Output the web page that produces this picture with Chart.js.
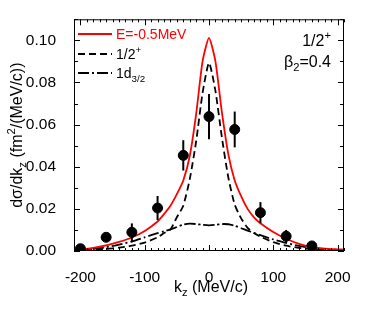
<!DOCTYPE html>
<html>
<head>
<meta charset="utf-8">
<script src="https://cdn.jsdelivr.net/npm/chart.js@4.4.1/dist/chart.umd.min.js"></script>
<style>
html, body { margin: 0; padding: 0; background: #fff; }
</style>
</head>
<body>
<canvas id="myChart" width="374" height="320"></canvas>
<script>
'use strict';

// curves
let curveX = [-210, -200, -180, -160, -140, -120, -100, -80, -70, -60, -50, -40, -30, -20, -10, 0,
  10, 20, 30, 40, 50, 60, 70, 80, 100, 120, 140, 160, 180, 200, 210];
let totalY = [0.0006, 0.0007, 0.0015, 0.0027, 0.0043, 0.0064, 0.0095, 0.0140, 0.0175, 0.0215, 0.0270, 0.0335, 0.0450, 0.0650, 0.0900, 0.1012,
  0.0900, 0.0660, 0.0460, 0.0335, 0.0260, 0.0200, 0.0160, 0.0132, 0.0090, 0.0058, 0.0034, 0.0019, 0.0011, 0.0008, 0.0007];
let halfPlusY = [0.0002, 0.0003, 0.0006, 0.0010, 0.0016, 0.0025, 0.0040, 0.0065, 0.0085, 0.0102, 0.0160, 0.0215, 0.0340, 0.0520, 0.0750, 0.0893,
  0.0760, 0.0540, 0.0350, 0.0220, 0.0155, 0.0110, 0.0085, 0.0068, 0.0042, 0.0025, 0.0015, 0.0009, 0.0005, 0.0003, 0.0002];
let d32Y = [0.0004, 0.0005, 0.0010, 0.0018, 0.0030, 0.0045, 0.0065, 0.0085, 0.0094, 0.0103, 0.0114, 0.0125, 0.0130, 0.0128, 0.0124, 0.0122,
  0.0124, 0.0128, 0.0127, 0.0120, 0.0108, 0.0097, 0.0086, 0.0075, 0.0055, 0.0038, 0.0024, 0.0014, 0.0008, 0.0004, 0.0003];

// measured points with errors
let expX = [-200, -160, -120, -80, -40, 0, 40, 80, 120, 160];
let expY = [0.0011, 0.0065, 0.0089, 0.0204, 0.0454, 0.0638, 0.0577, 0.0182, 0.0070, 0.0024];
let expErr = [0.0008, 0.0018, 0.0042, 0.0057, 0.0072, 0.0107, 0.0085, 0.0050, 0.0030, 0.0010];

let xTicks = [-200, -100, 0, 100, 200];
let yTicks = [0, 0.02, 0.04, 0.06, 0.08, 0.10];

const FONT = '"Liberation Sans", Arial, Helvetica, sans-serif';
const DASH = [7, 4];
const DASHDOT = [11, 3, 2, 3];

function pts(ys) {
  return curveX.map((x, i) => ({ x: x, y: ys[i] }));
}

// text pieces: [string, 'sub' | 'sup' | undefined]
function richWidth(ctx, parts, size) {
  let w = 0;
  parts.forEach(p => {
    ctx.font = (p[1] ? size * 0.7 : size) + 'px ' + FONT;
    w += ctx.measureText(p[0]).width;
  });
  return w;
}
function richText(ctx, parts, x, y, size, color) {
  ctx.fillStyle = color;
  ctx.textBaseline = 'alphabetic';
  ctx.textAlign = 'left';
  parts.forEach(p => {
    let dy = 0;
    if (p[1] === 'sub') dy = size * 0.28;
    if (p[1] === 'sup') dy = -size * 0.42;
    ctx.font = (p[1] ? size * 0.7 : size) + 'px ' + FONT;
    ctx.fillText(p[0], x, y + dy);
    x += ctx.measureText(p[0]).width;
  });
}

const errorBars = {
  id: 'errorBars',
  afterDatasetsDraw(chart) {
    let ctx = chart.ctx;
    let xs = chart.scales.x, ys = chart.scales.y;
    ctx.save();
    ctx.strokeStyle = '#000';
    ctx.lineWidth = 2;
    for (let i = 0; i < expX.length; i++) {
      let px = xs.getPixelForValue(expX[i]);
      ctx.beginPath();
      ctx.moveTo(px, ys.getPixelForValue(expY[i] - expErr[i]));
      ctx.lineTo(px, ys.getPixelForValue(expY[i] + expErr[i]));
      ctx.stroke();
    }
    ctx.restore();
  }
};

const frameAndText = {
  id: 'frameAndText',
  afterDraw(chart) {
    let ctx = chart.ctx;
    let a = chart.chartArea;
    let xs = chart.scales.x, ys = chart.scales.y;
    ctx.save();
    ctx.strokeStyle = '#000';
    ctx.lineWidth = 1;
    ctx.strokeRect(a.left + 0.5, a.top + 0.5, a.right - a.left - 1, a.bottom - a.top - 1);

    // inward ticks on all four sides
    ctx.beginPath();
    for (let v = -210; v <= 210; v += 10) {
      let px = Math.round(xs.getPixelForValue(v)) + 0.5;
      let len = (v % 100 === 0) ? 6 : 3;
      ctx.moveTo(px, a.bottom); ctx.lineTo(px, a.bottom - len);
      ctx.moveTo(px, a.top); ctx.lineTo(px, a.top + len);
    }
    for (let k = 0; k <= 11; k++) {
      let py = Math.round(ys.getPixelForValue(k / 100)) + 0.5;
      let len = (k % 2 === 0) ? 6 : 4;
      ctx.moveTo(a.left, py); ctx.lineTo(a.left + len, py);
      ctx.moveTo(a.right, py); ctx.lineTo(a.right - len, py);
    }
    ctx.stroke();

    // legend
    ctx.lineWidth = 1.8;
    let rows = [
      { color: '#ff0000', dash: [], y: 34, parts: [['E=-0.5MeV']] },
      { color: '#000', dash: DASH, y: 54, parts: [['1/2'], ['+', 'sup']] },
      { color: '#000', dash: DASHDOT, y: 73, parts: [['1d'], ['3/2', 'sub']] }
    ];
    rows.forEach(r => {
      ctx.strokeStyle = r.color;
      ctx.setLineDash(r.dash);
      ctx.beginPath();
      ctx.moveTo(a.left + 4, r.y);
      ctx.lineTo(a.left + 38, r.y);
      ctx.stroke();
      richText(ctx, r.parts, a.left + 42, r.y + 5, 14, r.color);
    });
    ctx.setLineDash([]);

    // labels in the upper right
    let p1 = [['1/2'], ['+', 'sup']];
    richText(ctx, p1, 331 - richWidth(ctx, p1, 16), 46, 16, '#000');
    let p2 = [['\u03b2'], ['2', 'sub'], ['=0.4']];
    richText(ctx, p2, 331 - richWidth(ctx, p2, 16), 67, 16, '#000');

    // axis titles
    let xt = [['k'], ['z', 'sub'], [' (MeV/c)']];
    richText(ctx, xt, (a.left + a.right) / 2 - richWidth(ctx, xt, 16) / 2 + 2, 292, 16, '#000');
    let yt = [['d\u03c3/dk'], ['z', 'sub'], [' (fm'], ['2', 'sup'], ['/(MeV/c))']];
    ctx.translate(22, (a.top + a.bottom) / 2);
    ctx.rotate(-Math.PI / 2);
    richText(ctx, yt, -richWidth(ctx, yt, 16) / 2, 0, 16, '#000');
    ctx.restore();
  }
};

let ctx = document.getElementById('myChart').getContext('2d');
let myChart = new Chart(ctx, {
  type: 'scatter',
  data: {
    datasets: [
      {
        label: 'data',
        data: expX.map((x, i) => ({ x: x, y: expY[i] })),
        backgroundColor: '#000',
        borderColor: '#000',
        pointRadius: 5,
        showLine: false
      },
      {
        label: 'E=-0.5MeV',
        data: pts(totalY),
        showLine: true,
        borderColor: '#ff0000',
        borderWidth: 1.8,
        pointRadius: 0,
        tension: 0.2
      },
      {
        label: '1/2+',
        data: pts(halfPlusY),
        showLine: true,
        borderColor: '#000',
        borderWidth: 1.8,
        borderDash: DASH,
        pointRadius: 0,
        tension: 0.2
      },
      {
        label: '1d3/2',
        data: pts(d32Y),
        showLine: true,
        borderColor: '#000',
        borderWidth: 1.8,
        borderDash: DASHDOT,
        pointRadius: 0,
        tension: 0.2
      }
    ]
  },
  options: {
    responsive: false,
    animation: false,
    devicePixelRatio: 1,
    layout: { padding: { top: 18, right: 30, left: 0, bottom: 0 } },
    plugins: {
      legend: { display: false },
      tooltip: { enabled: false }
    },
    scales: {
      x: {
        type: 'linear',
        min: -210,
        max: 210,
        grid: { display: false },
        border: { display: false },
        afterBuildTicks: s => { s.ticks = xTicks.map(v => ({ value: v })); },
        afterFit: s => { s.height = 69; },
        ticks: {
          padding: 9,
          color: '#000',
          font: { family: FONT, size: 15.5 },
          maxRotation: 0,
          callback: v => String(v)
        }
      },
      y: {
        type: 'linear',
        min: 0,
        max: 0.11,
        grid: { display: false },
        border: { display: false },
        afterBuildTicks: s => { s.ticks = yTicks.map(v => ({ value: v })); },
        afterFit: s => { s.width = 74; },
        ticks: {
          padding: 10,
          color: '#000',
          font: { family: FONT, size: 15.5 },
          callback: v => Number(v).toFixed(2)
        }
      }
    }
  },
  plugins: [errorBars, frameAndText]
});
</script>
</body>
</html>
